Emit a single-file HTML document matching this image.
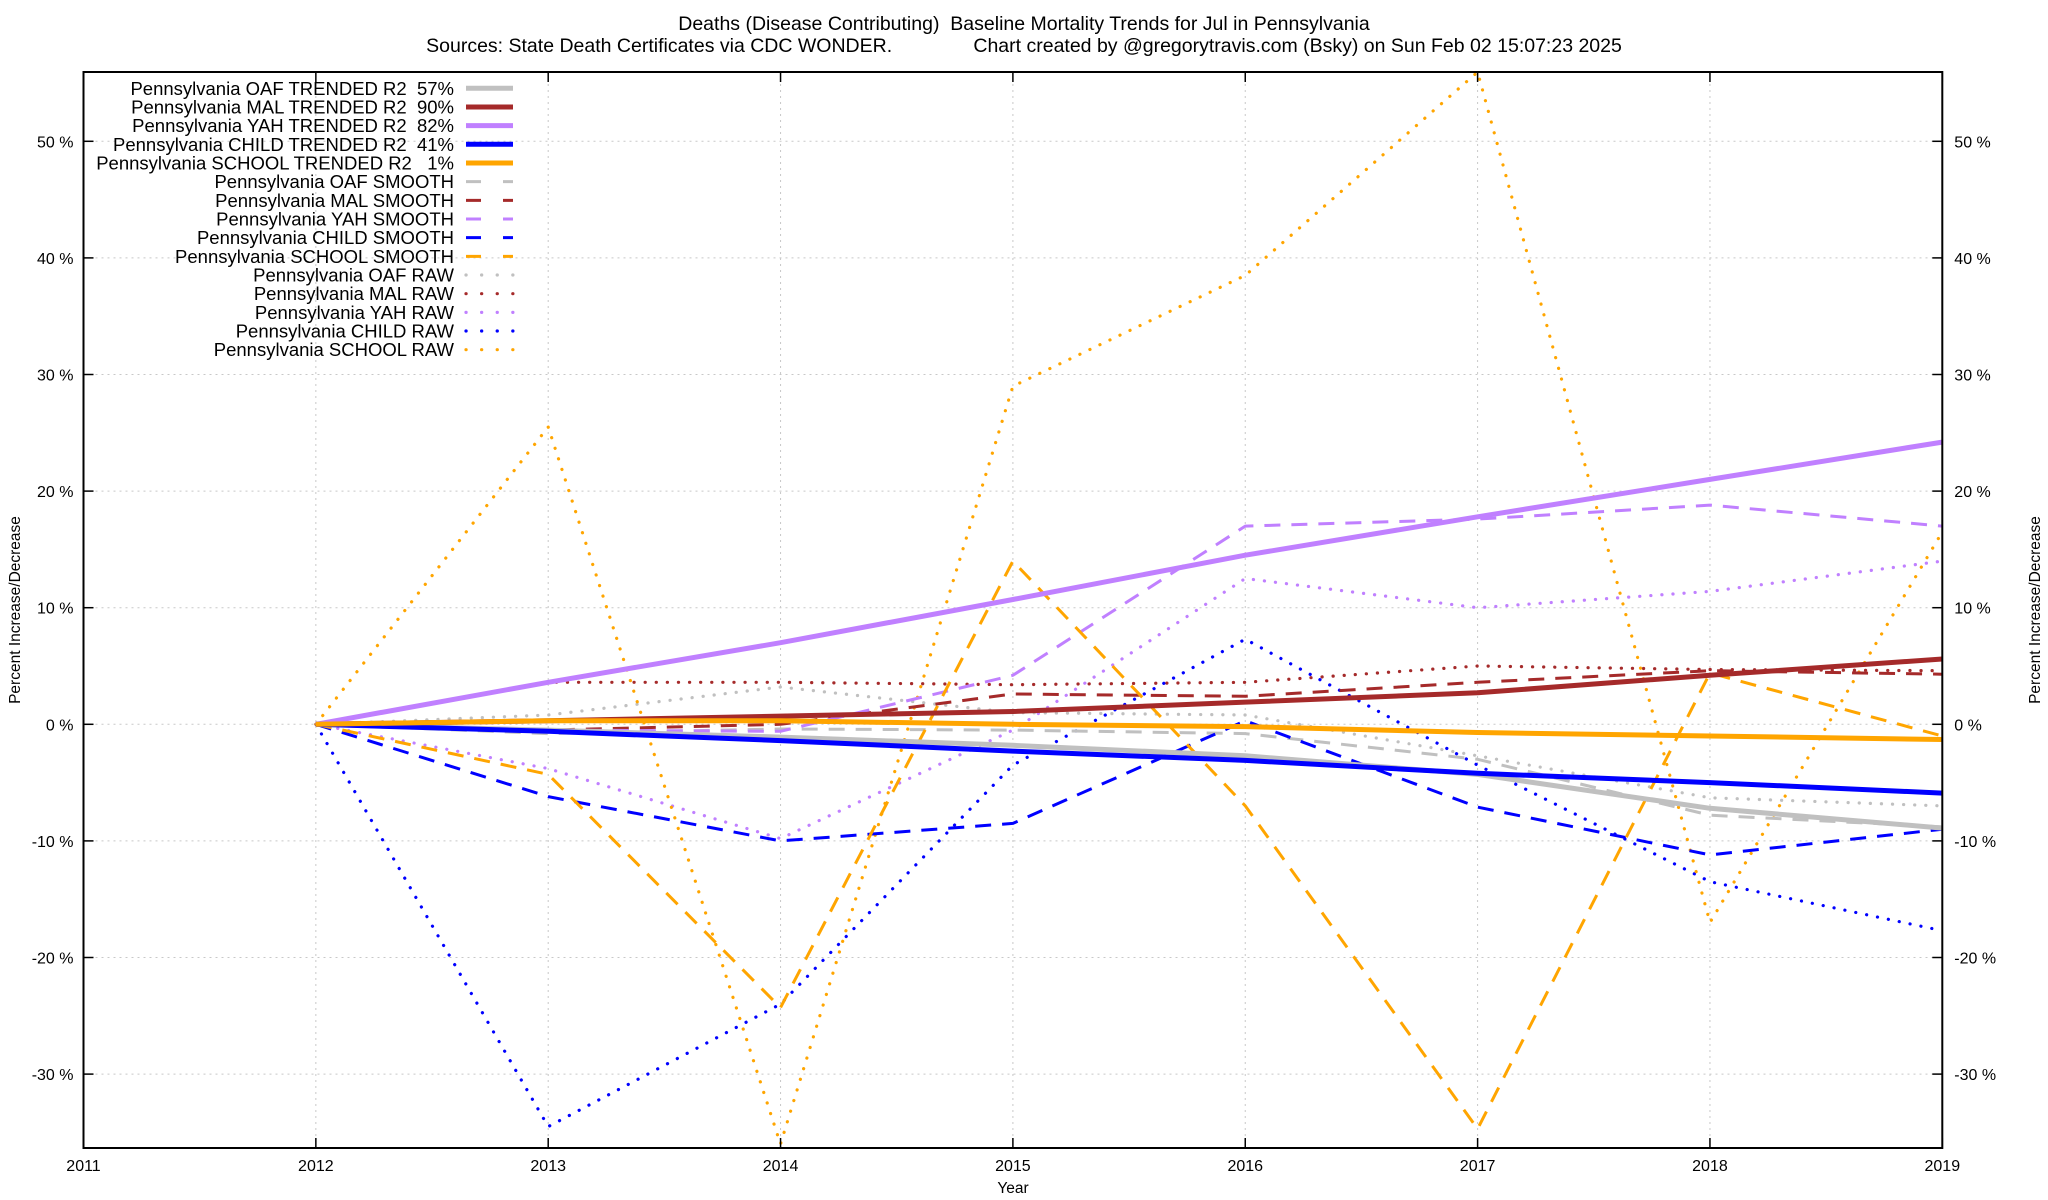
<!DOCTYPE html>
<html><head><meta charset="utf-8"><style>
html,body{margin:0;padding:0;background:#fff}
svg{display:block;font-family:"Liberation Sans",Arial,sans-serif}
svg text{white-space:pre}
</style></head><body>
<svg id="chart" width="2048" height="1200" viewBox="0 0 2048 1200">
<text x="1024" y="30" text-anchor="middle" font-size="19.5">Deaths (Disease Contributing)  Baseline Mortality Trends for Jul in Pennsylvania</text>
<text x="1024" y="52" text-anchor="middle" font-size="19.5">Sources: State Death Certificates via CDC WONDER.               Chart created by @gregorytravis.com (Bsky) on Sun Feb 02 15:07:23 2025</text>
<g id="grid"></g>
<g id="series"></g>
<rect x="83.5" y="72" width="1858.8" height="1076" fill="none" stroke="#000" stroke-width="2"/>
<g id="axes"></g>
<g id="legend"></g>
<text transform="translate(20,610) rotate(-90)" text-anchor="middle" font-size="15.5">Percent Increase/Decrease</text>
<text transform="translate(2040,610) rotate(-90)" text-anchor="middle" font-size="15.5">Percent Increase/Decrease</text>
<text x="1013" y="1193" text-anchor="middle" font-size="15.5">Year</text>
</svg>
<script>
const years = [2012,2013,2014,2015,2016,2017,2018,2019];
const xTicks = [2011,2012,2013,2014,2015,2016,2017,2018,2019];
const yTicks = [-30,-20,-10,0,10,20,30,40,50];
const oafTrend = [0,-0.5,-1.1,-1.8,-2.7,-4.3,-7.2,-8.9];
const malTrend = [0,0.3,0.7,1.1,1.9,2.7,4.2,5.6];
const yahTrend = [0,3.6,7.0,10.7,14.5,17.8,21.0,24.2];
const childTrend = [0,-0.6,-1.4,-2.3,-3.1,-4.2,-5.0,-5.9];
const schoolTrend = [0,0.3,0.3,0.0,-0.2,-0.7,-1.0,-1.3];
const oafSmooth = [0,-0.8,-0.4,-0.5,-0.8,-3.0,-7.8,-8.8];
const malSmooth = [0,-0.5,0.0,2.6,2.4,3.6,4.6,4.3];
const yahSmooth = [0,-0.5,-0.6,4.2,17.0,17.6,18.8,17.0];
const childSmooth = [0,-6.2,-10.0,-8.5,0.3,-7.1,-11.2,-9.0];
const schoolSmooth = [0,-4.3,-24.3,14.0,-7.0,-34.7,4.4,-1.0];
const oafRaw = [0,0.8,3.2,1.0,0.8,-2.7,-6.3,-7.0];
const malRaw = [0,3.6,3.6,3.4,3.6,5.0,4.7,4.6];
const yahRaw = [0,-3.8,-9.8,-0.5,12.5,10.0,11.4,14.0];
const childRaw = [0,-34.5,-24.0,-3.5,7.3,-3.5,-13.5,-17.7];
const schoolRaw = [0,25.5,-36.0,29.0,38.5,56.0,-17.0,16.5];
const legendLabels = ["Pennsylvania OAF TRENDED R2  57%","Pennsylvania MAL TRENDED R2  90%","Pennsylvania YAH TRENDED R2  82%","Pennsylvania CHILD TRENDED R2  41%","Pennsylvania SCHOOL TRENDED R2   1%","Pennsylvania OAF SMOOTH","Pennsylvania MAL SMOOTH","Pennsylvania YAH SMOOTH","Pennsylvania CHILD SMOOTH","Pennsylvania SCHOOL SMOOTH","Pennsylvania OAF RAW","Pennsylvania MAL RAW","Pennsylvania YAH RAW","Pennsylvania CHILD RAW","Pennsylvania SCHOOL RAW"];

const NS="http://www.w3.org/2000/svg";
const L=83.5,R=1942.3,T=72,B=1148,Y0=724.3,PER10=116.6;
const X=v=>L+(v-2011)*(R-L)/8;
const Y=v=>Y0-v*PER10/10;
function mk(tag,attrs,parent){const e=document.createElementNS(NS,tag);for(const k in attrs)e.setAttribute(k,attrs[k]);parent.appendChild(e);return e;}
const grid=document.getElementById('grid'),axes=document.getElementById('axes'),ser=document.getElementById('series'),leg=document.getElementById('legend');
yTicks.forEach(v=>{
  const g=mk('line',{x1:L,x2:R,y1:Y(v),y2:Y(v),stroke:'#c8c8c8','stroke-width':1,'stroke-dasharray':'2 4'},grid);
  
  
  mk('line',{x1:L,x2:L+10,y1:Y(v),y2:Y(v),stroke:'#000','stroke-width':1.5},axes);
  mk('line',{x1:R-10,x2:R,y1:Y(v),y2:Y(v),stroke:'#000','stroke-width':1.5},axes);
  const t=mk('text',{x:L-10,y:Y(v)+6,'text-anchor':'end','font-size':16},axes);t.textContent=v+' %';
  
  
  const t2=mk('text',{x:R+12,y:Y(v)+6,'text-anchor':'start','font-size':16},axes);t2.textContent=v+' %';
  
  
});
xTicks.forEach(v=>{
  const g=mk('line',{x1:X(v),x2:X(v),y1:T,y2:B,stroke:'#c8c8c8','stroke-width':1,'stroke-dasharray':'2 4'},grid);
  
  
  mk('line',{x1:X(v),x2:X(v),y1:B,y2:B-10,stroke:'#000','stroke-width':1.5},axes);
  mk('line',{x1:X(v),x2:X(v),y1:T,y2:T+10,stroke:'#000','stroke-width':1.5},axes);
  const t=mk('text',{x:X(v),y:1171,'text-anchor':'middle','font-size':16},axes);t.textContent=v;
  
  
});
const GRAY='#c0c0c0',MAL='#a52a2a',YAH='#c080ff',CHILD='#0000ff',SCHOOL='#ffa500';
const styles={trend:{w:5,d:null,cap:'butt'},smooth:{w:3,d:'16 11',cap:'butt'},raw:{w:3.2,d:'0.1 11',cap:'round'}};
const seriesList=[
 [oafTrend,GRAY,'trend','oaf-trend-line'],[malTrend,MAL,'trend','mal-trend-line'],[yahTrend,YAH,'trend','yah-trend-line'],[childTrend,CHILD,'trend','child-trend-line'],[schoolTrend,SCHOOL,'trend','school-trend-line'],
 [oafSmooth,GRAY,'smooth','oaf-smooth-line'],[malSmooth,MAL,'smooth','mal-smooth-line'],[yahSmooth,YAH,'smooth','yah-smooth-line'],[childSmooth,CHILD,'smooth','child-smooth-line'],[schoolSmooth,SCHOOL,'smooth','school-smooth-line'],
 [oafRaw,GRAY,'raw','oaf-raw-line'],[malRaw,MAL,'raw','mal-raw-line'],[yahRaw,YAH,'raw','yah-raw-line'],[childRaw,CHILD,'raw','child-raw-line'],[schoolRaw,SCHOOL,'raw','school-raw-line']];
const drawOrder=[10,11,12,13,14,5,6,7,8,9,0,1,2,3,4];
drawOrder.forEach(i=>{
  const [vals,col,kind,name]=seriesList[i];const s=styles[kind];
  const pts=vals.map((v,j)=>X(years[j]).toFixed(1)+','+Math.max(T,Math.min(B,Y(v))).toFixed(1)).join(' ');
  const a={points:pts,fill:'none',stroke:col,'stroke-width':s.w,'stroke-linecap':s.cap,'stroke-linejoin':'round'};
  if(s.d)a['stroke-dasharray']=s.d;
  const p=mk('polyline',a,ser);
  
  
});
legendLabels.forEach((lab,i)=>{
  const y=88.3+i*18.67;const [vals,col,kind]=seriesList[i];const s=styles[kind];
  const t=mk('text',{x:454,y:y+6.5,'text-anchor':'end','font-size':18.5},leg);t.textContent=lab;
  
  
  const a={x1:466,x2:513,y1:y,y2:y,stroke:col,'stroke-width':s.w,'stroke-linecap':s.cap};
  if(kind==='smooth')a['stroke-dasharray']='15 22';
  if(kind==='raw')a['stroke-dasharray']='0.1 15.5';
  const l=mk('line',a,leg);
  
  
});
</script>
</body></html>
